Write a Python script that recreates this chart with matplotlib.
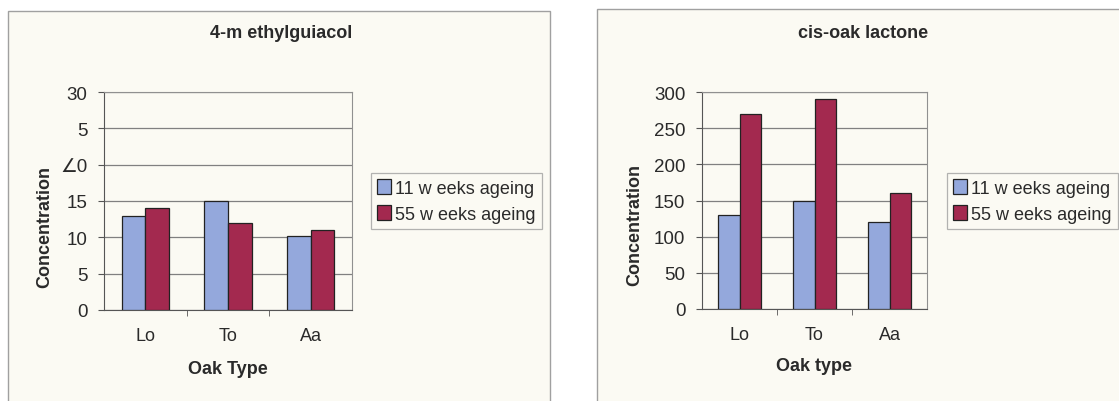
import numpy as np
import matplotlib.pyplot as plt
from matplotlib.patches import Rectangle

plt.rcParams['font.family'] = ['Liberation Sans', 'DejaVu Sans']
plt.rcParams['text.color'] = '#2a2a2a'
plt.rcParams['xtick.labelcolor'] = '#2a2a2a'
plt.rcParams['ytick.labelcolor'] = '#2a2a2a'

oak = ['Lo', 'To', 'Aa']
series = ['11 w eeks ageing', '55 w eeks ageing']

mg_11 = [13, 15, 10.2]
mg_55 = [14, 12, 11]
mg_ticks = [0, 5, 10, 15, 20, 25, 30]
mg_ticklabels = ['0', '5', '10', '15', '\u22200', '5', '30']

ol_11 = [130, 150, 120]
ol_55 = [270, 290, 160]
ol_ticks = [0, 50, 100, 150, 200, 250, 300]

blue = '#94A8DC'
red = '#A3294F'
bg = '#FBFAF3'

W, H = 1119, 402
fig = plt.figure(figsize=(W / 100, H / 100), dpi=100)
fig.patch.set_facecolor('white')

# panel frames (px coords -> figure fraction)
def frac(x0, y0, x1, y1):
    return [x0 / W, 1 - y1 / H, (x1 - x0) / W, (y1 - y0) / H]

for x0, y0, x1, y1 in [(8, 12, 550, 410), (597, 10, 1130, 410)]:
    l, b, w, h = frac(x0, y0, x1, y1)
    fig.patches.append(Rectangle((l, b), w, h, transform=fig.transFigure,
                                 facecolor=bg, edgecolor='#a0a0a0', lw=1.0, zorder=-5))


def panel(rect, v11, v55, ticks, ticklabels, title, xlabel, legend_px,
          title_xy, ylab_xy, xlab_y):
    ax = fig.add_axes(frac(*rect))
    ax.set_facecolor(bg)
    x = np.arange(len(oak))
    bw = 0.285
    ax.bar(x - bw / 2, v11, bw, color=blue, edgecolor='#222222', lw=0.9, label=series[0], zorder=3)
    ax.bar(x + bw / 2, v55, bw, color=red, edgecolor='#222222', lw=0.9, label=series[1], zorder=3)
    ax.set_xlim(-0.5, 2.5)
    ax.set_ylim(ticks[0], ticks[-1])
    ax.set_yticks(ticks)
    ax.set_yticklabels(ticklabels)
    ax.yaxis.grid(True, color='#808080', lw=0.9, zorder=1)
    ax.set_axisbelow(True)
    ax.set_xticks(x)
    ax.set_xticklabels(oak)
    ax.set_xticks([0.5, 1.5], minor=True)
    ax.tick_params(axis='x', which='major', length=0, pad=12, labelsize=13)
    ax.tick_params(axis='x', which='minor', length=4, color='#555555')
    ax.tick_params(axis='y', length=4, color='#555555', labelsize=13.5, pad=8)
    for s in ['top', 'right']:
        ax.spines[s].set_color('#909090')
    for s in ['left', 'bottom']:
        ax.spines[s].set_color('#555555')
    fig.text(title_xy[0] / W, 1 - title_xy[1] / H, title, ha='center', va='center',
             fontsize=13, fontweight='bold')
    fig.text(ylab_xy[0] / W, 1 - ylab_xy[1] / H, 'Concentration', rotation=90,
             ha='center', va='center', fontsize=13, fontweight='bold')
    cx = (rect[0] + rect[2]) / 2
    fig.text(cx / W, 1 - xlab_y / H, xlabel, ha='center', va='center',
             fontsize=13, fontweight='bold')
    lx0, ly0, lx1, ly1 = legend_px
    l, b, w, h = frac(lx0, ly0, lx1, ly1)
    leg = ax.legend(loc='center left', bbox_to_anchor=(l, b, w, h),
                    bbox_transform=fig.transFigure, fontsize=13, frameon=True,
                    fancybox=False, borderpad=0.35, handlelength=0.75,
                    handleheight=0.9, handletextpad=0.25, labelspacing=0.45,
                    borderaxespad=0)
    leg.get_frame().set_edgecolor('#a0a0a0')
    leg.get_frame().set_facecolor(bg)
    leg.get_frame().set_linewidth(0.9)
    return ax


panel((104, 93, 352, 311), mg_11, mg_55, mg_ticks, mg_ticklabels,
      '4-m ethylguiacol', 'Oak Type', (371, 171, 544, 233), (281, 34), (45, 227), 370)
panel((702, 93, 927, 310), ol_11, ol_55, ol_ticks, [str(t) for t in ol_ticks],
      'cis-oak lactone', 'Oak type', (947, 172, 1125, 232), (863, 34), (635, 225), 367)

fig.savefig('out.png', dpi=100, facecolor=fig.get_facecolor())
